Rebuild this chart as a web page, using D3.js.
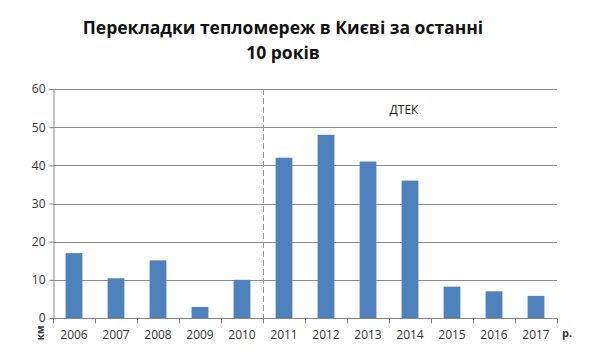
<!DOCTYPE html>
<html>
<head>
<meta charset="utf-8">
<script src="https://cdn.jsdelivr.net/npm/d3@7"></script>
<style>
  body { margin: 0; background: #fff; }
  svg { font-family: "Open Sans", "Liberation Sans", sans-serif; }
</style>
</head>
<body>
<svg width="591" height="364"></svg>
<script>
// chart data
const years = ["2006", "2007", "2008", "2009", "2010", "2011", "2012", "2013", "2014", "2015", "2016", "2017"];
const km = [17, 10.4, 15.1, 2.9, 10, 42, 48, 41, 36, 8.2, 7, 5.8];
const yTicks = [0, 10, 20, 30, 40, 50, 60];
const titleLines = ["Перекладки тепломереж в Києві за останні", "10 років"];
const splitYear = "2011"; // DTEK from here on

const svg = d3.select("svg");
const plotLeft = 53, plotRight = 557, plotTop = 89, plotBottom = 318;

const x = d3.scaleBand().domain(years).range([plotLeft, plotRight]).paddingInner(0.6).paddingOuter(0.3);
const xb = d3.scaleBand().domain(years).range([plotLeft, plotRight]); // for tick positions
const y = d3.scaleLinear().domain([0, 60]).range([plotBottom, plotTop]);

// grid
svg.append("g")
  .selectAll("line")
  .data(yTicks.filter(d => d > 0))
  .join("line")
  .attr("x1", plotLeft).attr("x2", plotRight)
  .attr("y1", d => Math.round(y(d)) + 0.5).attr("y2", d => Math.round(y(d)) + 0.5)
  .attr("stroke", "#8c8c8c").attr("stroke-width", 1);

// bars
svg.append("g")
  .selectAll("rect")
  .data(years)
  .join("rect")
  .attr("x", (d) => x(d))
  .attr("width", x.bandwidth())
  .attr("y", (d, i) => y(km[i]))
  .attr("height", (d, i) => plotBottom - y(km[i]))
  .attr("fill", "#4f81bd");

// dashed divider
const sx = Math.round(xb(splitYear)) + 0.5;
svg.append("line")
  .attr("x1", sx).attr("x2", sx)
  .attr("y1", plotTop).attr("y2", plotBottom)
  .attr("stroke", "#999").attr("stroke-dasharray", "6,3");

svg.append("text")
  .attr("x", 404).attr("y", 114)
  .attr("text-anchor", "middle")
  .attr("font-size", 12).attr("fill", "#222")
  .text("ДТЕК");

// y axis
const yAxis = svg.append("g")
  .attr("transform", `translate(${plotLeft + 0.5},0)`)
  .call(d3.axisLeft(y).tickValues(yTicks).tickSize(4).tickSizeOuter(0));
yAxis.select(".domain").attr("stroke", "#868686");
yAxis.selectAll(".tick line").attr("stroke", "#868686");
yAxis.selectAll(".tick text").attr("font-size", 12).attr("fill", "#333").attr("x", -8)
  .attr("font-family", "'Open Sans', sans-serif");

// x axis with ticks between categories
const xg = svg.append("g").attr("transform", `translate(0,${plotBottom + 0.5})`);
xg.append("line").attr("x1", plotLeft).attr("x2", plotRight).attr("stroke", "#868686");
xg.selectAll("line.tk")
  .data(years.concat(["end"]))
  .join("line")
  .attr("class", "tk")
  .attr("x1", (d, i) => Math.round(plotLeft + i * xb.step()) + 0.5)
  .attr("x2", (d, i) => Math.round(plotLeft + i * xb.step()) + 0.5)
  .attr("y1", 0).attr("y2", 5)
  .attr("stroke", "#868686");
xg.selectAll("text")
  .data(years)
  .join("text")
  .attr("x", d => xb(d) + xb.bandwidth() / 2)
  .attr("y", 20)
  .attr("text-anchor", "middle")
  .attr("font-size", 12).attr("fill", "#333")
  .text(d => d);

// unit labels
svg.append("text")
  .attr("transform", "translate(44,333) rotate(-90)")
  .attr("text-anchor", "middle")
  .attr("font-size", 10).attr("font-weight", "bold").attr("fill", "#333")
  .text("км");
svg.append("text")
  .attr("x", 562).attr("y", 337)
  .attr("font-size", 11).attr("font-weight", "bold").attr("fill", "#333")
  .text("р.");

// title
svg.append("text")
  .attr("x", 283).attr("y", 34)
  .attr("text-anchor", "middle")
  .attr("font-size", 17.5).attr("font-weight", "bold").attr("fill", "#111")
  .text(titleLines[0]);
svg.append("text")
  .attr("x", 283).attr("y", 59)
  .attr("text-anchor", "middle")
  .attr("font-size", 17.5).attr("font-weight", "bold").attr("fill", "#111")
  .text(titleLines[1]);
</script>
</body>
</html>
